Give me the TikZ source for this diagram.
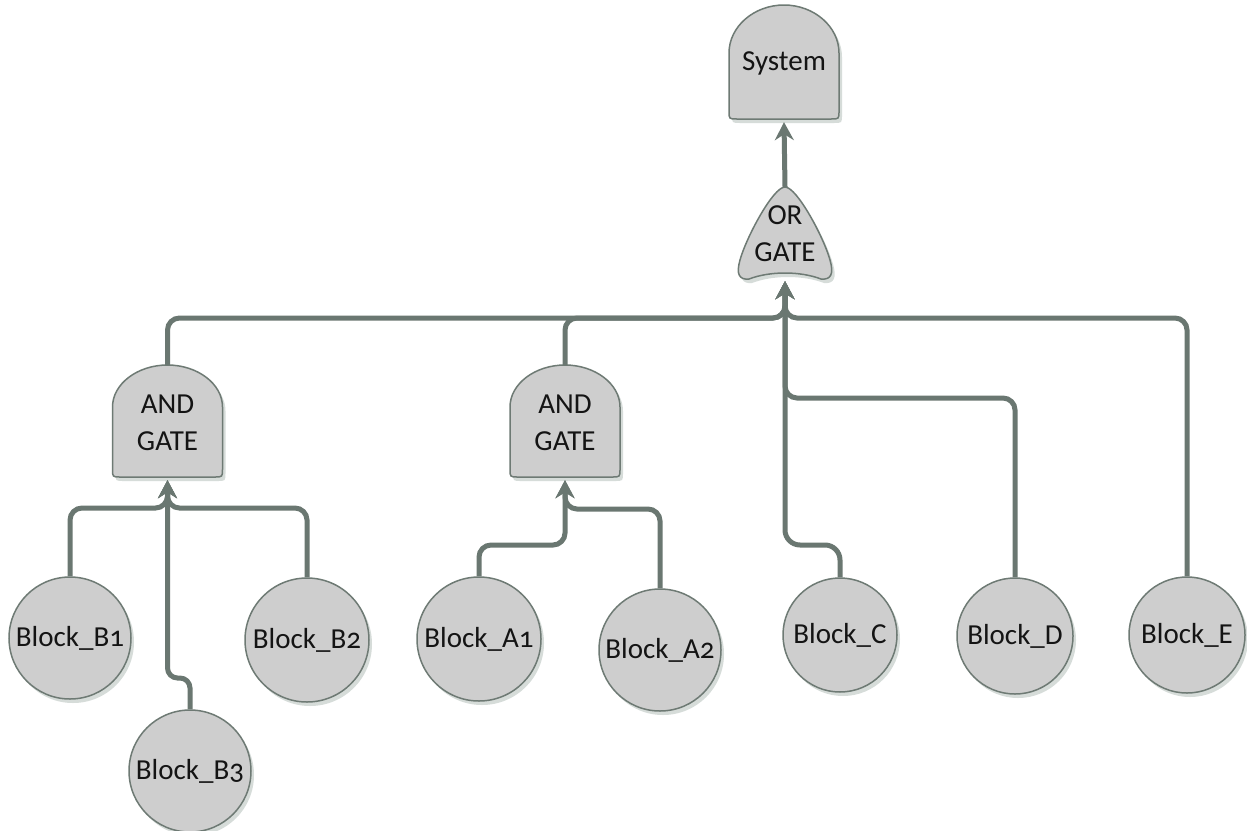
\documentclass[tikz,border=0pt]{standalone}
\usepackage{fontspec}
\setmainfont{Carlito}[Numbers=OldStyle]
\usetikzlibrary{arrows.meta,shadows}

\definecolor{wirec}{RGB}{106,119,113}
\definecolor{bordc}{RGB}{110,122,116}
\definecolor{fillc}{RGB}{206,206,206}
\definecolor{shadec}{RGB}{214,220,217}
\definecolor{inkc}{RGB}{20,20,20}

% outline of an arch-topped gate: #1 centre x, #2 top, #3 bottom, #4 arch height
\newcommand\archoutline[4]{%
  (#1-55,#3-8) -- (#1-55,#2+#4)
  .. controls (#1-55,#2+0.45*#4) and (#1-30,#2) .. (#1,#2)
  .. controls (#1+30,#2) and (#1+55,#2+0.45*#4) .. (#1+55,#2+#4)
  -- (#1+55,#3-8) .. controls (#1+55,#3) .. (#1+47,#3)
  -- (#1-47,#3) .. controls (#1-55,#3) .. (#1-55,#3-8) -- cycle}

\tikzset{
  shapeline/.style={draw=bordc, line width=1.5pt, fill=fillc,
    drop shadow={shadow xshift=3pt, shadow yshift=-4pt, fill=shadec, opacity=1}},
  label/.style={text=inkc, font=\fontsize{29}{37}\selectfont, align=center, inner sep=0pt},
  gatebox/.style={label, minimum width=110pt},
  block/.style={circle, shapeline, label, minimum size=#1},
  wire/.style={draw=wirec, line width=5pt, rounded corners=12pt},
  feed/.style={wire, -{Stealth[length=18pt,width=19pt,inset=6pt]}}
}

\begin{document}
\begin{tikzpicture}[x=1pt,y=-1pt]
\useasboundingbox (0,0) rectangle (1247,830);
\fill[white] (0,0) rectangle (1247,830);

% gate bodies
\draw[shapeline] \archoutline{784}{5}{119}{48};
\draw[shapeline] \archoutline{167.5}{365}{477}{42};
\draw[shapeline] \archoutline{565}{365}{477}{42};
\draw[shapeline] (785,187)
  .. controls (797,187) and (824,238) .. (830,260)
  .. controls (834,274) and (831,280) .. (821,279)
  .. controls (800,271) and (770,271) .. (749,279)
  .. controls (739,280) and (736,274) .. (740,260)
  .. controls (746,238) and (773,187) .. cycle;

% gate labels (their boxes carry the connector anchors)
\node[gatebox, minimum height=117pt] (sys) at (784,63.5) {System};
\node[gatebox, minimum width=94pt, minimum height=94pt] (or) at (785,234) {\fontsize{29}{33}\selectfont OR\\GATE};
\node[gatebox, minimum height=115pt] (and1) at (167.5,422.5) {AND\\GATE};
\node[gatebox, minimum height=115pt] (and2) at (565,422.5) {AND\\GATE};

% basic events
\node[block=122pt] (b1) at (70,638) {Block\_B1};
\node[block=124pt] (b2) at (307,640) {Block\_B2};
\node[block=122pt] (b3) at (190,771) {Block\_B3};
\node[block=124pt] (a1) at (479,639) {Block\_A1};
\node[block=122pt] (a2) at (660,650) {Block\_A2};
\node[block=114pt] (c) at (840,635) {Block\_C};
\node[block=116pt] (d) at (1015,636) {Block\_D};
\node[block=116pt] (e) at (1187,635) {Block\_E};

% routing points
\coordinate (busO) at (785,318);
\coordinate (busD) at (785,398);
\coordinate (jogC1) at (840,545);
\coordinate (jogC2) at (785,545);
\coordinate (busB) at (167.5,508);
\coordinate (jogB3) at (167.5,678);
\coordinate (busA1) at (565,545);
\coordinate (busA2) at (565,509);

% connectors into the OR gate
\draw[feed] (and1.north) |- (busO) -- (or.south);
\draw[feed] (and2.north) |- (busO) -- (or.south);
\draw[feed] (e.north) |- (busO) -- (or.south);
\draw[feed] (d.north) |- (busD) -- (or.south);
\draw[feed, rounded corners=15pt] (c.north) -- (jogC1) -- (jogC2) -- (or.south);

% connectors into the AND gates
\draw[feed] (b1.north) |- (busB) -- (and1.south);
\draw[feed] (b2.north) |- (busB) -- (and1.south);
\draw[feed, rounded corners=10pt] (b3.north) |- (jogB3) -- (and1.south);
\draw[feed] (a1.north) |- (busA1) -- (and2.south);
\draw[feed] (a2.north) |- (busA2) -- (and2.south);

% top event
\draw[feed] (or.north) -- (sys.south);
\end{tikzpicture}
\end{document}
